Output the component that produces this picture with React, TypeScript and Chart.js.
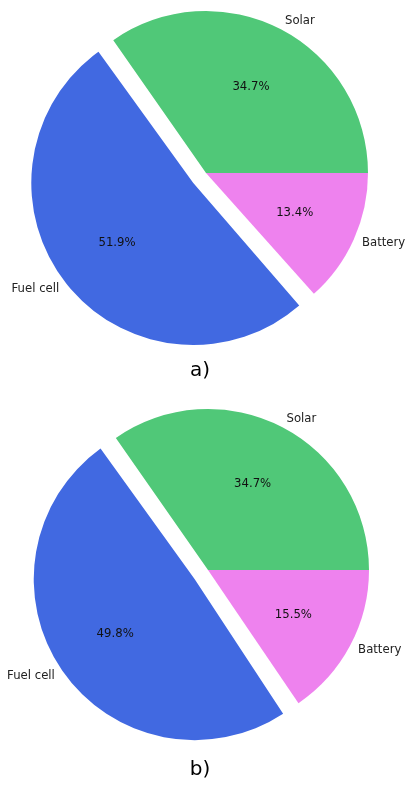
import React, { useEffect, useRef } from "react";
import { Chart, registerables } from "chart.js";

Chart.register(...registerables);

// ---- data ----
const categories = ["Solar", "Fuel cell", "Battery"];
const valuesA = [34.7, 51.9, 13.4];
const valuesB = [34.7, 49.8, 15.5];
const explodeFlags = [0, 1, 0];
const sliceColors = ["#50C878", "#4169E1", "#EE82EE"];
const captions = ["a)", "b)"];

const FONT = '"DejaVu Sans", "Liberation Sans", sans-serif';

const pieTextPlugin = {
  id: "pieText",
  afterDatasetsUpdate(chart: any) {
    // Chart.js enlarges an offset arc by offset/4; undo that so the exploded slice keeps the radius
    const meta = chart.getDatasetMeta(0);
    meta.data.forEach((arc: any) => {
      const o = (arc.options?.offset || 0) / 4;
      const fix = 1 - Math.sin(Math.min(Math.PI, arc.circumference || 0));
      arc.outerRadius = arc.outerRadius - o * fix;
    });
  },
  afterDatasetsDraw(chart: any, _args: any, opts: any) {
    const ctx = chart.ctx;
    const meta = chart.getDatasetMeta(0);
    const data = chart.data.datasets[0].data as number[];
    const labels = chart.data.labels as string[];
    const total = data.reduce((a, b) => a + b, 0);
    const r = opts.radius;
    ctx.save();
    meta.data.forEach((arc: any, i: number) => {
      const mid = (arc.startAngle + arc.endAngle) / 2;
      const shift = (arc.options?.offset || 0) / 4;
      const cx = arc.x + Math.cos(mid) * shift;
      const cy = arc.y + Math.sin(mid) * shift;
      const c = Math.cos(mid);
      const s = Math.sin(mid);
      // percentage
      ctx.font = `11.7px ${FONT}`;
      ctx.fillStyle = "#111";
      ctx.textAlign = "center";
      ctx.textBaseline = "middle";
      ctx.fillText(((data[i] / total) * 100).toFixed(1) + "%", cx + c * r * 0.6, cy + s * r * 0.6);
      // label
      ctx.fillStyle = "#222";
      ctx.textAlign = c >= 0 ? "left" : "right";
      ctx.fillText(labels[i], cx + c * r * 1.055, cy + s * r * 1.055);
    });
    // caption
    ctx.font = `20px ${FONT}`;
    ctx.fillStyle = "#000";
    ctx.textAlign = "center";
    ctx.textBaseline = "middle";
    ctx.fillText(opts.caption, opts.captionX, opts.captionY);
    ctx.restore();
  },
};

type PieProps = {
  values: number[];
  caption: string;
  width: number;
  height: number;
  radius: number;
  padding: { left: number; right: number; top: number; bottom: number };
  captionX: number;
  captionY: number;
};

function PieChart({ values, caption, width, height, radius, padding, captionX, captionY }: PieProps) {
  const ref = useRef<HTMLCanvasElement | null>(null);
  useEffect(() => {
    if (!ref.current) return;
    // matplotlib draws counter-clockwise from 3 o'clock; Chart.js draws clockwise,
    // so reverse the order and start at 3 o'clock (rotation 90).
    const order = [...categories.keys()].reverse();
    const chart = new Chart(ref.current, {
      type: "pie",
      data: {
        labels: order.map((i) => categories[i]),
        datasets: [
          {
            data: order.map((i) => values[i]),
            backgroundColor: order.map((i) => sliceColors[i]),
            offset: order.map((i) => explodeFlags[i] * radius * 0.1 * 4),
            borderWidth: 0,
          },
        ],
      },
      options: {
        responsive: false,
        animation: false,
        devicePixelRatio: 1,
        rotation: 90,
        radius: radius,
        layout: { padding },
        events: [],
        plugins: {
          legend: { display: false },
          tooltip: { enabled: false },
          pieText: { radius, caption, captionX, captionY },
        } as any,
      },
      plugins: [pieTextPlugin as any],
    });
    return () => chart.destroy();
  }, []);
  return <canvas ref={ref} width={width} height={height} style={{ display: "block", width, height }} />;
}

export default function App() {
  return (
    <div style={{ position: "absolute", left: 0, top: 0, width: 405, height: 785, background: "#fff" }}>
      <PieChart
        values={valuesA}
        caption={captions[0]}
        width={405}
        height={395}
        radius={162}
        padding={{ left: 7, right: 0, top: 0, bottom: 49 }}
        captionX={200}
        captionY={371}
      />
      <PieChart
        values={valuesB}
        caption={captions[1]}
        width={405}
        height={390}
        radius={161}
        padding={{ left: 11, right: 0, top: 0, bottom: 40 }}
        captionX={200}
        captionY={375}
      />
    </div>
  );
}
